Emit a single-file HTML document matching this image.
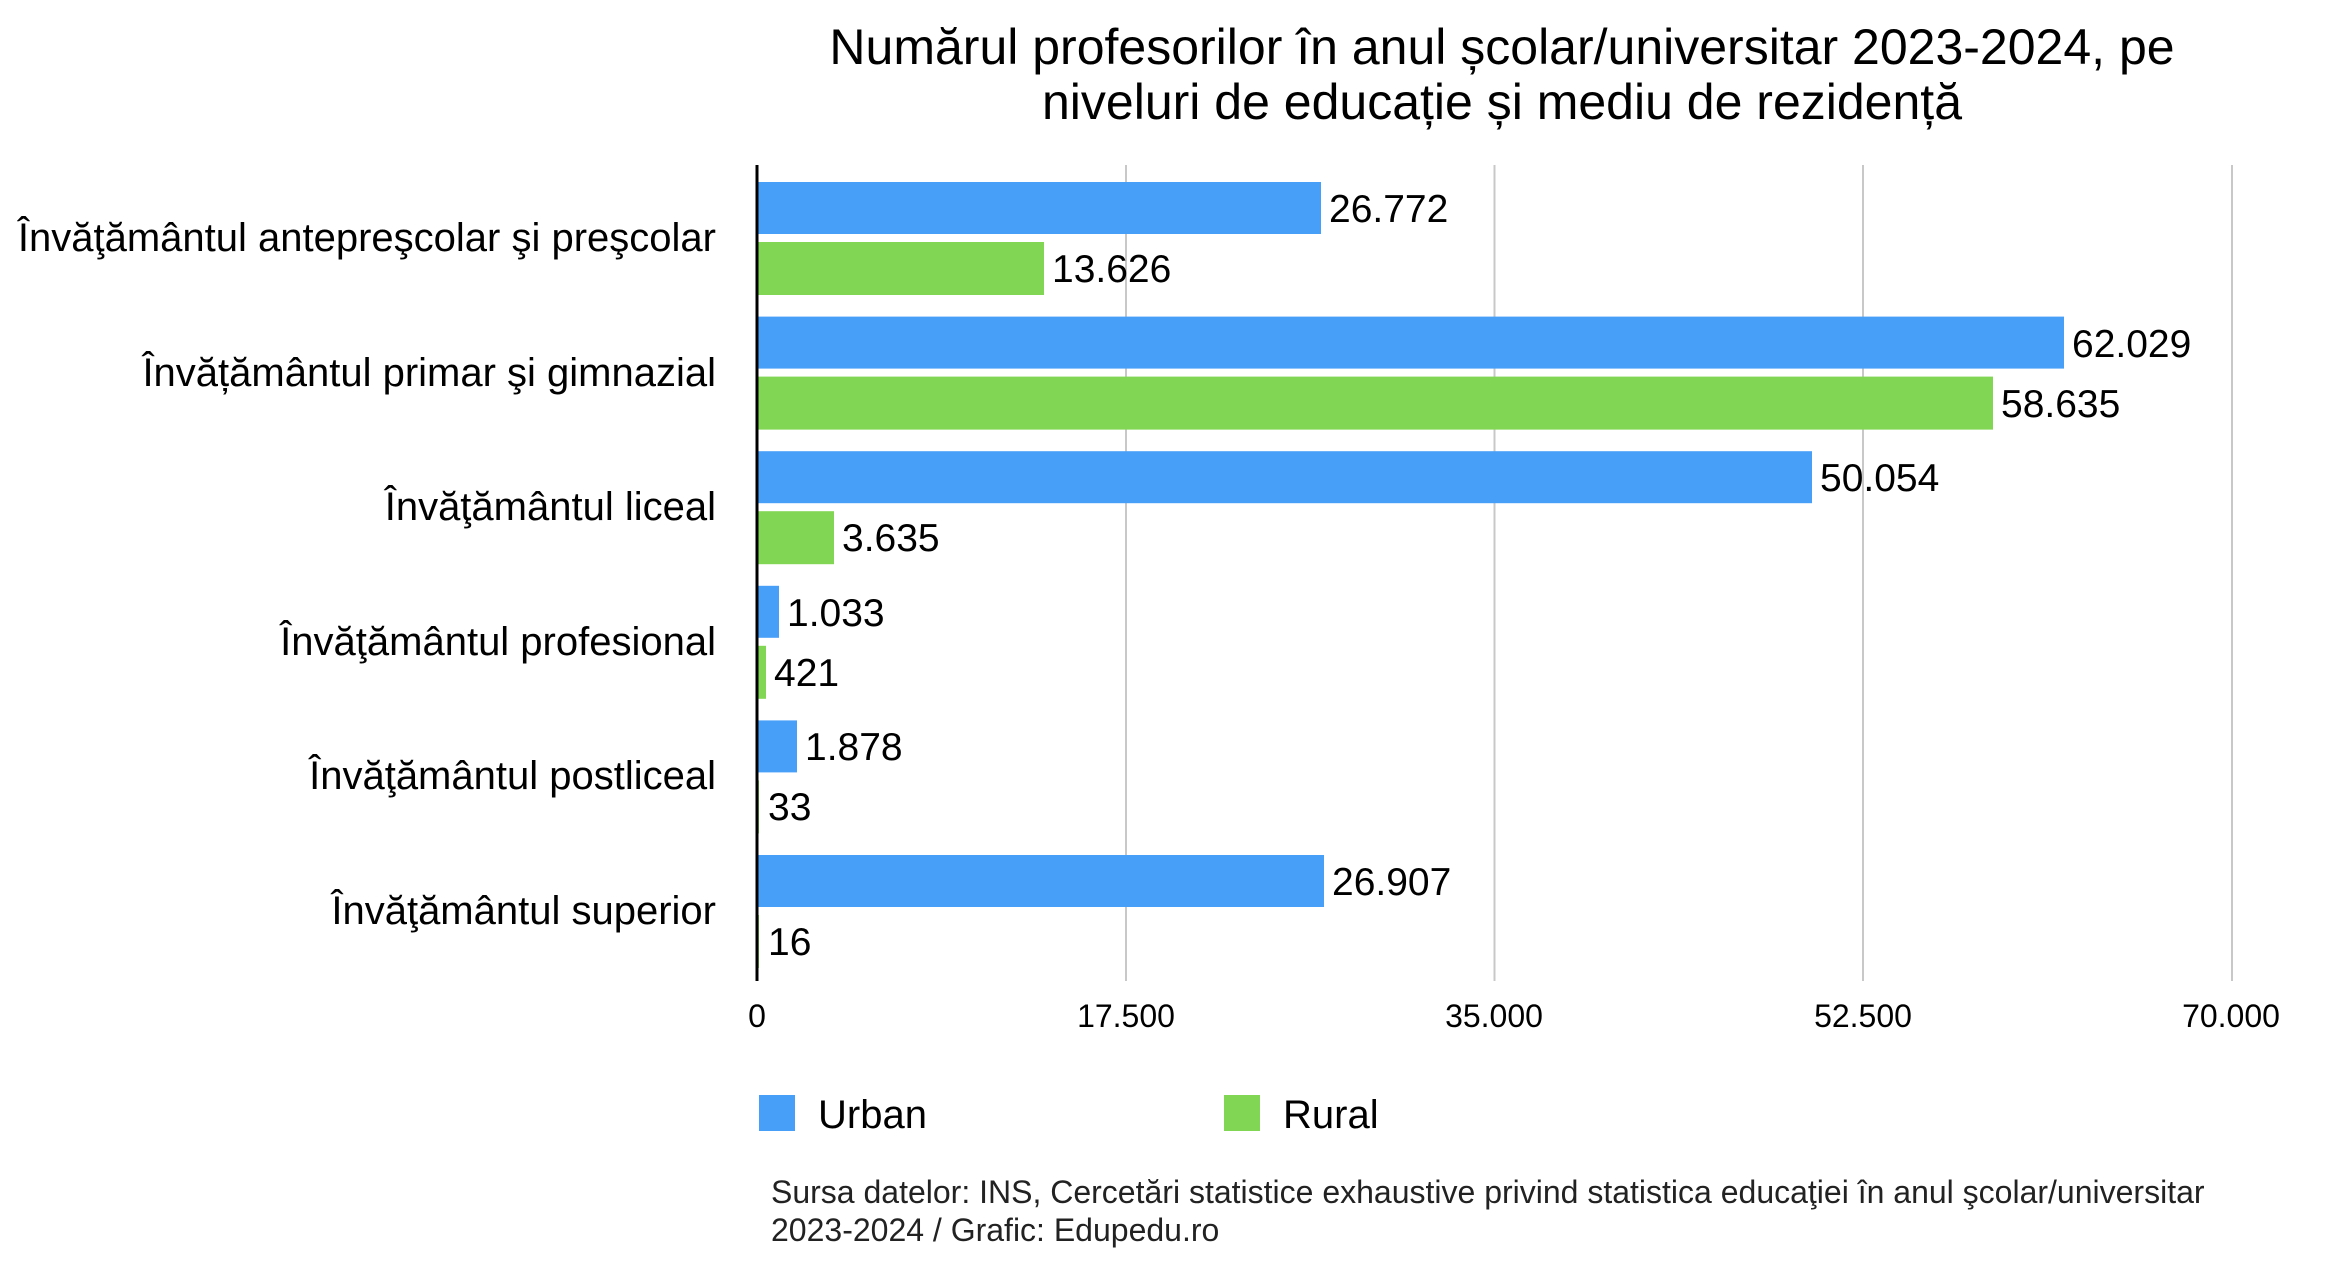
<!DOCTYPE html>
<html><head><meta charset="utf-8"><style>
html,body{margin:0;padding:0;background:#fff;}
svg{display:block;font-family:"Liberation Sans",Arial,sans-serif;}
</style></head><body>
<svg width="2343" height="1276" viewBox="0 0 2343 1276" xmlns="http://www.w3.org/2000/svg">
<g fill="#000" font-size="50" text-anchor="middle">
<text x="1502" y="64">Numărul profesorilor în anul școlar/universitar 2023-2024, pe</text>
<text x="1502" y="119">niveluri de educație și mediu de rezidență</text>
</g>
<g stroke="#c8c8c8" stroke-width="2">
<line x1="1126" y1="165" x2="1126" y2="981"/>
<line x1="1494.5" y1="165" x2="1494.5" y2="981"/>
<line x1="1863" y1="165" x2="1863" y2="981"/>
<line x1="2232" y1="165" x2="2232" y2="981"/>
</g>
<g>
<rect x="758" y="182" width="563" height="52" fill="#479ff8"/>
<rect x="758" y="242" width="286" height="53" fill="#81d653"/>
<rect x="758" y="316.6" width="1306" height="52" fill="#479ff8"/>
<rect x="758" y="376.6" width="1235" height="53" fill="#81d653"/>
<rect x="758" y="451.2" width="1054" height="52" fill="#479ff8"/>
<rect x="758" y="511.2" width="76" height="53" fill="#81d653"/>
<rect x="758" y="585.8" width="21" height="52" fill="#479ff8"/>
<rect x="758" y="645.8" width="8" height="53" fill="#81d653"/>
<rect x="758" y="720.4" width="39" height="52" fill="#479ff8"/>
<rect x="758" y="780.4" width="1" height="53" fill="#81d653"/>
<rect x="758" y="855" width="566" height="52" fill="#479ff8"/>
<rect x="758" y="915" width="1" height="53" fill="#81d653"/>
</g>
<line x1="757" y1="165" x2="757" y2="981" stroke="#000" stroke-width="3"/>
<g font-size="39" fill="#000">
<text x="1329" y="222">26.772</text>
<text x="1052" y="282">13.626</text>
<text x="2072" y="357">62.029</text>
<text x="2001" y="417">58.635</text>
<text x="1820" y="491">50.054</text>
<text x="842" y="551">3.635</text>
<text x="787" y="626">1.033</text>
<text x="774" y="686">421</text>
<text x="805" y="760">1.878</text>
<text x="768" y="820">33</text>
<text x="1332" y="895">26.907</text>
<text x="768" y="955">16</text>
</g>
<g font-size="40" fill="#000" text-anchor="end">
<text x="716" y="251">Învăţământul antepreşcolar şi preşcolar</text>
<text x="716" y="386">Învățământul primar şi gimnazial</text>
<text x="716" y="520">Învăţământul liceal</text>
<text x="716" y="655">Învăţământul profesional</text>
<text x="716" y="789">Învăţământul postliceal</text>
<text x="716" y="924">Învăţământul superior</text>
</g>
<g font-size="32" fill="#000" text-anchor="middle">
<text x="757" y="1027">0</text>
<text x="1126" y="1027">17.500</text>
<text x="1494" y="1027">35.000</text>
<text x="1863" y="1027">52.500</text>
<text x="2231" y="1027">70.000</text>
</g>
<rect x="759" y="1095" width="36" height="36" fill="#479ff8"/>
<text x="818" y="1128" font-size="40">Urban</text>
<rect x="1224" y="1095" width="36" height="36" fill="#81d653"/>
<text x="1283" y="1128" font-size="40">Rural</text>
<g font-size="32" fill="#222">
<text x="771" y="1203">Sursa datelor: INS, Cercetări statistice exhaustive privind statistica educaţiei în anul şcolar/universitar</text>
<text x="771" y="1241">2023-2024 / Grafic: Edupedu.ro</text>
</g>
</svg>
</body></html>
